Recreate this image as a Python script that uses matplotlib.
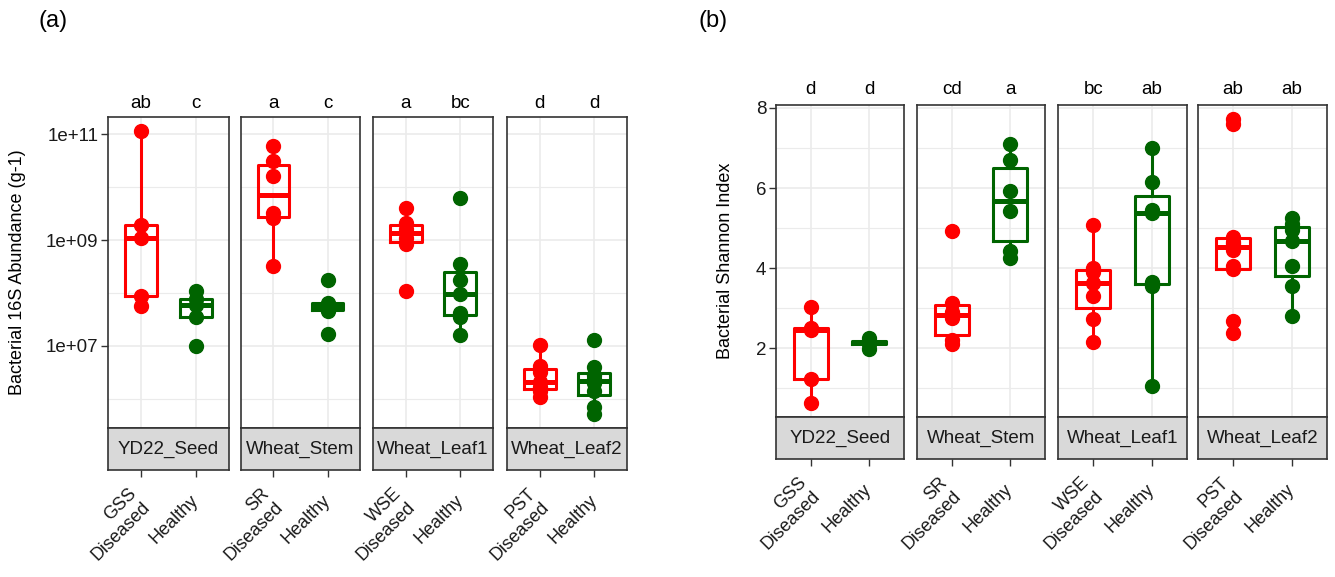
import numpy as np
import matplotlib.pyplot as plt

plt.rcParams['font.family'] = ['Liberation Sans', 'DejaVu Sans']

tissues = ['YD22_Seed', 'Wheat_Stem', 'Wheat_Leaf1', 'Wheat_Leaf2']
diseases = ['GSS', 'SR', 'WSE', 'PST']

# bacterial 16S abundance (copies per g)
abund_diseased = [
    [5.8e7, 8.9e7, 1.1e9, 1.95e9, 1.15e11],
    [3.2e8, 2.6e9, 3.2e9, 1.6e10, 3.2e10, 6.0e10],
    [1.1e8, 8.5e8, 1.12e9, 1.6e9, 2.1e9, 4.0e9],
    [1.1e6, 1.4e6, 1.65e6, 2.1e6, 3.2e6, 4.2e6, 1.05e7],
]
abund_healthy = [
    [9.8e6, 3.6e7, 5.9e7, 7.6e7, 1.1e8],
    [1.7e7, 4.6e7, 5.0e7, 6.0e7, 6.6e7, 1.75e8],
    [1.6e7, 3.5e7, 4.2e7, 9.5e7, 1.8e8, 3.5e8, 6.2e9],
    [5.2e5, 7.1e5, 1.4e6, 2.0e6, 2.4e6, 2.8e6, 4.0e6, 1.3e7],
]
abund_letters = [('ab', 'c'), ('a', 'c'), ('a', 'bc'), ('d', 'd')]

# bacterial Shannon index
shannon_diseased = [
    [0.64, 1.24, 2.45, 2.52, 3.03],
    [2.11, 2.2, 2.75, 2.9, 3.14, 4.92],
    [2.15, 2.73, 3.3, 3.64, 3.9, 4.01, 5.09],
    [2.38, 2.68, 3.97, 4.05, 4.45, 4.6, 4.65, 4.78, 7.6, 7.72],
]
shannon_healthy = [
    [1.98, 2.12, 2.15, 2.18, 2.25],
    [4.26, 4.43, 5.42, 5.92, 6.70, 7.11],
    [1.07, 3.55, 3.65, 5.38, 5.45, 6.16, 6.99],
    [2.81, 3.56, 4.05, 4.67, 4.95, 5.1, 5.25],
]
shannon_letters = [('d', 'd'), ('cd', 'a'), ('bc', 'ab'), ('ab', 'ab')]

RED = '#FF0000'
GREEN = '#006400'
EDGE = '#333333'
W, H = 1335, 577

fig = plt.figure(figsize=(W / 100, H / 100), dpi=100)


def px_axes(x0, y0, x1, y1):
    return fig.add_axes([x0 / W, 1 - y1 / H, (x1 - x0) / W, (y1 - y0) / H])


def draw_group(ax, pos, vals, color):
    ax.boxplot([vals], positions=[pos], widths=0.58, showcaps=False,
               showfliers=False, whis=1.5, manage_ticks=False,
               boxprops=dict(color=color, lw=2.2),
               whiskerprops=dict(color=color, lw=2.2),
               medianprops=dict(color=color, lw=3.6))
    ax.plot(np.full(len(vals), pos), vals, 'o', ms=10, color=color,
            mec=color, zorder=3)


def draw_row(xs, ytop, ybot, ystrip, dis, hea, letters, ylim, major,
             minor, fmt, letter_off):
    for i in range(4):
        x0, x1 = xs[i]
        ax = px_axes(x0, ytop, x1, ybot)
        sax = px_axes(x0, ybot, x1, ystrip)
        draw_group(ax, 1, dis[i], RED)
        draw_group(ax, 2, hea[i], GREEN)
        ax.set_xlim(0.4, 2.6)
        ax.set_ylim(*ylim)
        ax.set_xticks([1, 2])
        ax.set_yticks(major)
        ax.set_yticks(minor, minor=True)
        ax.set_axisbelow(True)
        ax.grid(which='major', color='#EBEBEB', lw=1.2)
        ax.grid(which='minor', color='#EBEBEB', lw=0.8)
        ax.tick_params(axis='x', length=0, labelbottom=False)
        ax.tick_params(which='minor', length=0)
        if i == 0:
            ax.set_yticklabels([fmt(v) for v in major])
            ax.tick_params(axis='y', length=5, width=1, color=EDGE,
                           labelsize=13.5, labelcolor='#1A1A1A', pad=2)
        else:
            ax.tick_params(axis='y', length=0, labelleft=False)
        for s in ax.spines.values():
            s.set_color(EDGE)
            s.set_linewidth(1.2)
        for pos, lab in zip([1, 2], letters[i]):
            ax.annotate(lab, (pos, 1), xycoords=('data', 'axes fraction'),
                        xytext=(0, letter_off), textcoords='offset pixels',
                        ha='center', va='center', fontsize=13.5,
                        color='black')

        sax.set_xlim(0.4, 2.6)
        sax.set_ylim(0, 1)
        sax.set_facecolor('#D9D9D9')
        sax.set_yticks([])
        sax.set_xticks([1, 2])
        sax.set_xticklabels([diseases[i] + '\nDiseased', 'Healthy'],
                            rotation=45, ha='right', va='center',
                            rotation_mode='anchor', fontsize=13,
                            color='#1A1A1A')
        sax.tick_params(axis='x', length=5, width=1, color=EDGE, pad=15)
        for s in sax.spines.values():
            s.set_color(EDGE)
            s.set_linewidth(1.2)
        sax.text(1.5, 0.5, tissues[i], ha='center', va='center',
                 fontsize=13.5, color='#1A1A1A')


def expand(vals):
    lo, hi = min(vals), max(vals)
    d = (hi - lo) * 0.05
    return lo - d, hi + d


# panel (a): log10 abundance
log_dis = [np.log10(v) for v in abund_diseased]
log_hea = [np.log10(v) for v in abund_healthy]
all_a = np.concatenate(log_dis + log_hea)
draw_row([(108, 229), (241, 360), (373, 493), (507, 627)], 117, 428, 470,
         log_dis, log_hea, abund_letters, expand(all_a), [7, 9, 11],
         [6, 8, 10], lambda v: '1e+%02d' % v, 13)

# panel (b): Shannon index
all_b = np.concatenate(shannon_diseased + shannon_healthy)
draw_row([(776, 904), (917, 1045), (1058, 1187), (1198, 1327)], 105, 417, 459,
         shannon_diseased, shannon_healthy, shannon_letters, expand(all_b),
         [2, 4, 6, 8], [1, 3, 5, 7], lambda v: '%d' % v, 15)

fig.text(18 / W, 1 - 272 / H, 'Bacterial 16S Abundance (g-1)', rotation=90,
         ha='center', va='center', fontsize=13)
fig.text(726 / W, 1 - 261 / H, 'Bacterial Shannon Index', rotation=90,
         ha='center', va='center', fontsize=13)
fig.text(53 / W, 1 - 21 / H, '(a)', ha='center', va='center', fontsize=17)
fig.text(713 / W, 1 - 21 / H, '(b)', ha='center', va='center', fontsize=17)

fig.savefig('out.png', dpi=100)
